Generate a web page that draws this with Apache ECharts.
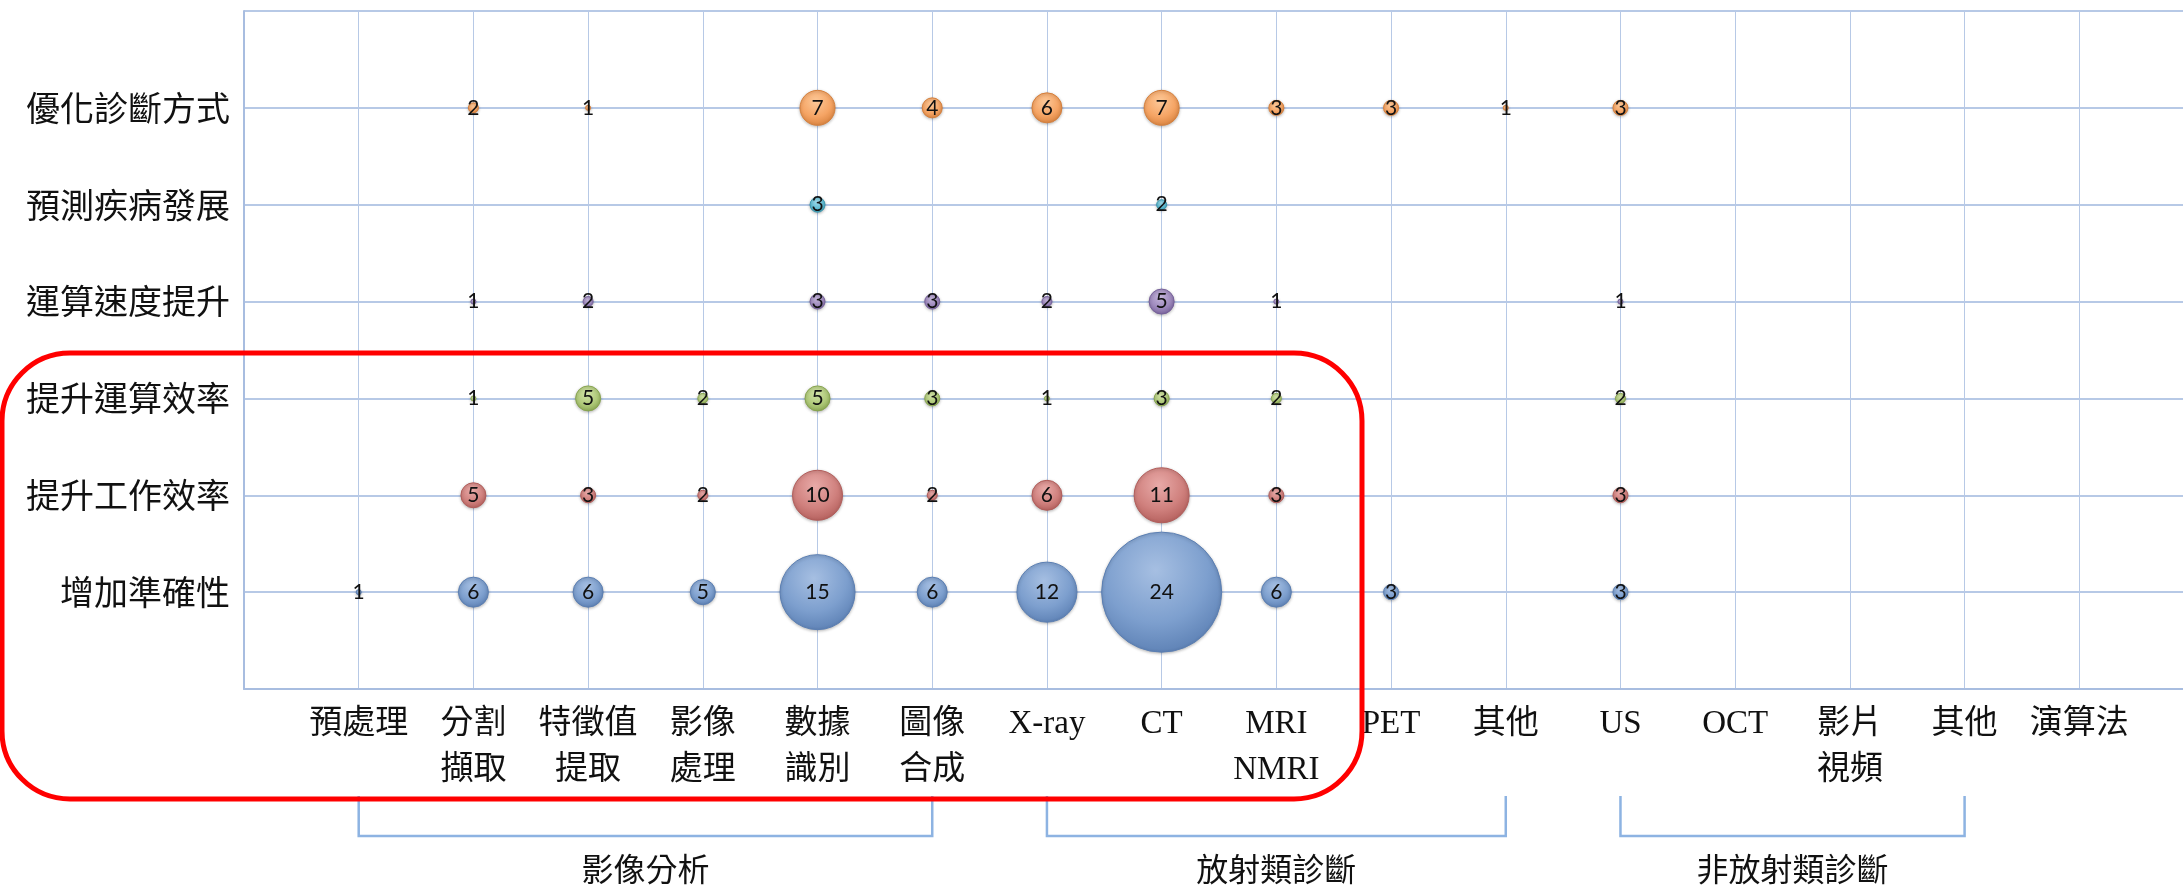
<!DOCTYPE html>
<html>
<head>
<meta charset="utf-8">
<script src="https://cdn.jsdelivr.net/npm/echarts@6/dist/echarts.min.js"></script>
<style>
    html, body { margin: 0; padding: 0; background: #fff; }
    #bubblemap { width: 2183px; height: 887px; }
</style>
</head>
<body>
<div id="bubblemap"></div>
<script>

// 橫軸 (x = 1..16)
var xLabels = ['預處理', '分割\n擷取', '特徵值\n提取', '影像\n處理', '數據\n識別', '圖像\n合成',
    'X-ray', 'CT', 'MRI\nNMRI', 'PET', '其他', 'US', 'OCT', '影片\n視頻', '其他', '演算法']

// 縱軸 (y = 1..6)
var yLabels = ['增加準確性', '提升工作效率', '提升運算效率', '運算速度提升', '預測疾病發展', '優化診斷方式']

// 每一列的數量, 依 xLabels 順序, null = 沒有
var accuracy   = [1, 6, 6, 5, 15, 6, 12, 24, 6, 3, null, 3, null, null, null, null]
var workEff    = [null, 5, 3, 2, 10, 2, 6, 11, 3, null, null, 3, null, null, null, null]
var computeEff = [null, 1, 5, 2, 5, 3, 1, 3, 2, null, null, 2, null, null, null, null]
var speedUp    = [null, 1, 2, null, 3, 3, 2, 5, 1, null, null, 1, null, null, null, null]
var predict    = [null, null, null, null, 3, null, null, 2, null, null, null, null, null, null, null, null]
var optimize   = [null, 2, 1, null, 7, 4, 6, 7, 3, 3, 1, 3, null, null, null, null]

// 下方分組括號 (from / to 為 x 值)
var groupNames = ['影像分析', '放射類診斷', '非放射類診斷']
var groupFrom = [1, 7, 12]
var groupTo = [6, 11, 15]

var rows = [accuracy, workEff, computeEff, speedUp, predict, optimize]

// office 風格的顏色 [亮, 中, 暗]
var palette = [
    ['#a6bfe2', '#7d9fce', '#5b7fb3'],
    ['#e8aaa8', '#d0817e', '#b25d5a'],
    ['#d2e3a8', '#afc979', '#88a550'],
    ['#c4b5da', '#9d88bc', '#76609a'],
    ['#9fdaea', '#5ebbd2', '#3b97ad'],
    ['#fcc898', '#f5a464', '#d6803c']
]

var chart = echarts.init(document.getElementById('bubblemap'))

var series = []
for (var r = 0; r < rows.length; r++) {
    var pts = []
    rows[r].forEach(function (v, i) {
        if (v != null) pts.push([i + 1, r + 1, v])
    })
    var c = palette[r]
    series.push({
        name: yLabels[r],
        type: 'scatter',
        data: pts,
        symbolSize: function (val) { return val[2] * 5 },
        itemStyle: {
            color: new echarts.graphic.RadialGradient(0.45, 0.32, 0.72, [
                { offset: 0, color: c[0] },
                { offset: 0.6, color: c[1] },
                { offset: 1, color: c[2] }
            ]),
            borderColor: c[2],
            borderWidth: 1,
            opacity: 1,
            shadowBlur: 3,
            shadowColor: 'rgba(0,0,0,0.25)',
            shadowOffsetY: 1
        },
        label: {
            show: true,
            position: 'inside',
            formatter: function (p) { return p.value[2] },
            color: '#111',
            fontSize: 21,
            fontFamily: 'Lato'
        },
        emphasis: { disabled: true },
        z: 3
    })
}

var gridLine = '#b7c9e6'

option = {
    backgroundColor: '#fff',
    animation: false,
    grid: {
        left: 244,
        top: 11,
        width: 1950,
        height: 678,
        outerBoundsMode: 'none'
    },
    xAxis: {
        type: 'value',
        min: 0,
        max: 17,
        interval: 1,
        axisLine: { show: true, lineStyle: { color: '#a8bde0', width: 2 } },
        axisTick: { show: false },
        splitLine: { show: true, lineStyle: { color: gridLine, width: 1 } },
        axisLabel: {
            margin: 12,
            lineHeight: 46,
            fontSize: 33,
            color: '#111',
            fontFamily: "'Liberation Serif', 'Noto Sans CJK TC'",
            showMinLabel: false,
            formatter: function (v) { return xLabels[v - 1] || '' }
        }
    },
    yAxis: {
        type: 'value',
        min: 0,
        max: 7,
        interval: 1,
        axisLine: { show: true, lineStyle: { color: '#a8bde0', width: 2 } },
        axisTick: { show: false },
        splitLine: { show: true, lineStyle: { color: gridLine, width: 2 } },
        axisLabel: {
            margin: 14,
            fontSize: 34,
            color: '#111',
            fontFamily: "'Noto Sans CJK TC'",
            formatter: function (v) { return yLabels[v - 1] || '' }
        }
    },
    series: series
}

chart.setOption(option)

// 括號 + 分組文字, 位置由 x 軸換算
var elements = []
for (var g = 0; g < groupNames.length; g++) {
    var x1 = chart.convertToPixel({ gridIndex: 0 }, [groupFrom[g], 0])[0]
    var x2 = chart.convertToPixel({ gridIndex: 0 }, [groupTo[g], 0])[0]
    elements.push({
        type: 'polyline',
        shape: { points: [[x1, 796], [x1, 836], [x2, 836], [x2, 796]] },
        style: { stroke: '#8db3e2', lineWidth: 2.5, fill: null },
        silent: true
    })
    elements.push({
        type: 'text',
        x: (x1 + x2) / 2,
        y: 869,
        style: {
            text: groupNames[g],
            fontSize: 32,
            fontFamily: "'Noto Sans CJK TC'",
            fill: '#111',
            align: 'center',
            verticalAlign: 'middle'
        },
        silent: true
    })
}

// 紅色圓角框
elements.push({
    type: 'rect',
    shape: { x: 2, y: 353, width: 1360, height: 446, r: 68 },
    style: { stroke: '#ff0000', lineWidth: 5, fill: null },
    z: 10,
    silent: true
})

chart.setOption({ graphic: { elements: elements } })

</script>
</body>
</html>
